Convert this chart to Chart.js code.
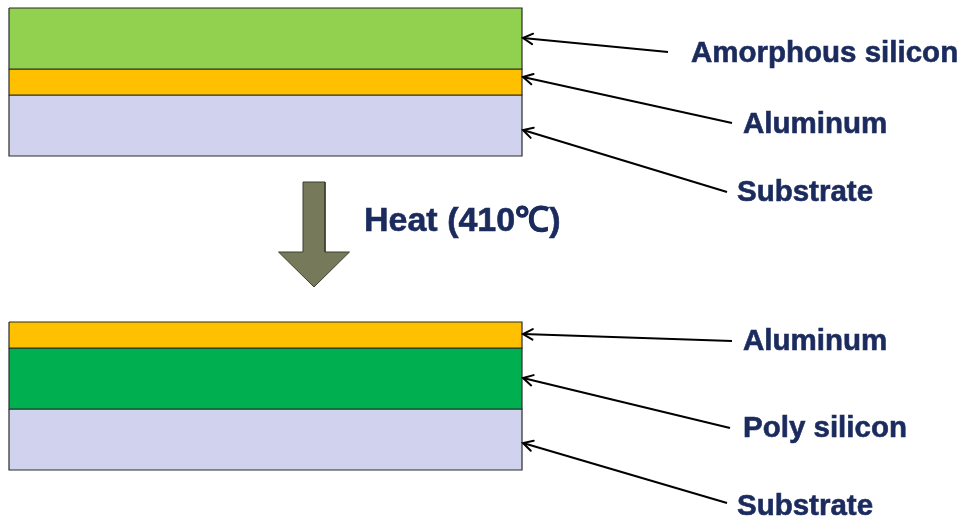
<!DOCTYPE html>
<html>
<head>
<meta charset="utf-8">
<script src="https://cdn.jsdelivr.net/npm/chart.js@4/dist/chart.umd.min.js"></script>
<style>
  html, body { margin: 0; padding: 0; background: #fff; }
  #wrap { width: 959px; height: 518px; }
</style>
</head>
<body>
<div id="wrap"><canvas id="stack" width="959" height="518"></canvas></div>
<script>
// layer names and thicknesses, top to bottom
const beforeLayers = ["Amorphous silicon", "Aluminum", "Substrate"];
const beforeThickness = [61, 26, 61];
const afterLayers = ["Aluminum", "Poly silicon", "Substrate"];
const afterThickness = [26, 61, 61];
const stepLabel = "Heat (410\u2103)";

// layout (diagram coordinates = pixels)
const stackLeft = 9, stackRight = 522;
const stackTops = [8, 322];
const layerColors = {
  "Amorphous silicon": "#92D050",
  "Aluminum": "#FFC000",
  "Substrate": "#D0D2EE",
  "Poly silicon": "#00B050"
};
const labelX = [[691, 743, 737], [743, 743, 737]];
const labelY = [[51, 122, 190], [339, 426, 504]];
const tipY = [[38, 77, 130], [334, 378, 443]];
const tailX = [[668, 732, 727], [732, 730, 727]];
const tailDy = [[1, 1, 2], [2, 2, -1]];
const textColor = "#1B2B5E";

const datasets = [];
const pointers = [];
const texts = [];

function addStack(names, thick, idx) {
  let y = stackTops[idx];
  names.forEach((name, i) => {
    const top = y, bot = y + thick[i];
    datasets.push({
      label: name,
      data: [
        { x: stackLeft, y: top }, { x: stackRight, y: top },
        { x: stackRight, y: bot }, { x: stackLeft, y: bot },
        { x: stackLeft, y: top }
      ],
      showLine: true,
      fill: "shape",
      backgroundColor: layerColors[name],
      borderColor: "#2b2b2b",
      borderWidth: 1.2,
      pointRadius: 0,
      tension: 0
    });
    pointers.push({
      x0: tailX[idx][i], y0: labelY[idx][i] + tailDy[idx][i],
      x1: stackRight + 1, y1: tipY[idx][i]
    });
    texts.push({ text: name, x: labelX[idx][i], y: labelY[idx][i] });
    y = bot;
  });
}
addStack(beforeLayers, beforeThickness, 0);
addStack(afterLayers, afterThickness, 1);

// block arrow for the heating step
const ax = 314, shaftHalf = 11, headHalf = 35.5, aTop = 182, headTop = 252, aTip = 287;
datasets.push({
  label: stepLabel,
  data: [
    { x: ax - shaftHalf, y: aTop }, { x: ax + shaftHalf, y: aTop },
    { x: ax + shaftHalf, y: headTop }, { x: ax + headHalf, y: headTop },
    { x: ax, y: aTip }, { x: ax - headHalf, y: headTop },
    { x: ax - shaftHalf, y: headTop }, { x: ax - shaftHalf, y: aTop }
  ],
  showLine: true,
  fill: "shape",
  backgroundColor: "#777A5A",
  borderColor: "#3d3f2c",
  borderWidth: 1,
  pointRadius: 0,
  tension: 0
});

// pointer lines
pointers.forEach(p => {
  datasets.push({
    label: "pointer",
    data: [{ x: p.x0, y: p.y0 }, { x: p.x1, y: p.y1 }],
    showLine: true,
    fill: false,
    borderColor: "#000",
    borderWidth: 2,
    pointRadius: 0
  });
});

const annotate = {
  id: "annotate",
  afterDatasetsDraw(chart) {
    const ctx = chart.ctx;
    const xs = chart.scales.x, ys = chart.scales.y;
    ctx.save();
    // arrow heads
    ctx.strokeStyle = "#000";
    ctx.lineWidth = 2;
    ctx.lineCap = "round";
    pointers.forEach(p => {
      const tx = xs.getPixelForValue(p.x1), ty = ys.getPixelForValue(p.y1);
      const fx = xs.getPixelForValue(p.x0), fy = ys.getPixelForValue(p.y0);
      const ang = Math.atan2(fy - ty, fx - tx);
      const len = 11, spread = 0.5;
      ctx.beginPath();
      ctx.moveTo(tx + len * Math.cos(ang - spread), ty + len * Math.sin(ang - spread));
      ctx.lineTo(tx, ty);
      ctx.lineTo(tx + len * Math.cos(ang + spread), ty + len * Math.sin(ang + spread));
      ctx.stroke();
    });
    // labels
    ctx.fillStyle = textColor;
    ctx.strokeStyle = textColor;
    ctx.lineWidth = 0.6;
    ctx.textBaseline = "middle";
    ctx.textAlign = "left";
    ctx.font = "bold 29.5px 'Liberation Sans', Arial, sans-serif";
    texts.forEach(t => {
      const px = xs.getPixelForValue(t.x), py = ys.getPixelForValue(t.y + 3);
      ctx.fillText(t.text, px, py);
      ctx.strokeText(t.text, px, py);
    });
    ctx.font = "bold 34px 'Liberation Sans', Arial, sans-serif";
    const hx = xs.getPixelForValue(364), hy = ys.getPixelForValue(222);
    ctx.fillText(stepLabel, hx, hy);
    ctx.strokeText(stepLabel, hx, hy);
    ctx.restore();
  }
};

new Chart(document.getElementById("stack"), {
  type: "scatter",
  data: { datasets: datasets },
  options: {
    responsive: false,
    animation: false,
    layout: { padding: 0 },
    plugins: { legend: { display: false }, tooltip: { enabled: false } },
    scales: {
      x: { type: "linear", min: 0, max: 959, display: false },
      y: { type: "linear", min: 0, max: 518, reverse: true, display: false }
    }
  },
  plugins: [annotate]
});
</script>
</body>
</html>
